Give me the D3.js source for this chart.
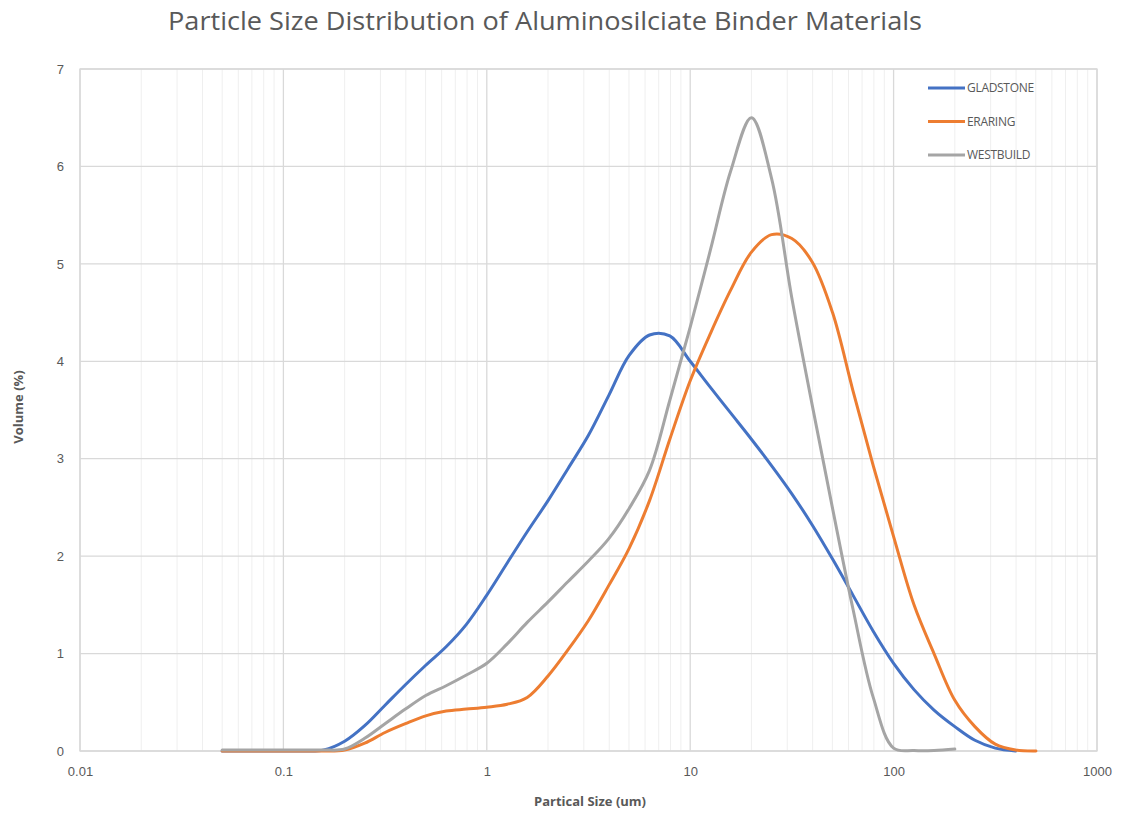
<!DOCTYPE html>
<html>
<head>
<meta charset="utf-8">
<script src="https://cdn.jsdelivr.net/npm/d3@7"></script>
<style>
  body { margin: 0; background: #fff; }
  svg { display: block; font-family: "Open Sans", "Liberation Sans", sans-serif; }
</style>
</head>
<body>
<svg id="chart"></svg>
<script>
// size classes (um), 10 per decade, as the analyser reports them
const sizes = [0.05, 0.063, 0.079, 0.1, 0.126, 0.158, 0.2, 0.251, 0.316, 0.398, 0.501, 0.631, 0.794,
  1, 1.26, 1.58, 2, 2.51, 3.16, 3.98, 5.01, 6.31, 7.94,
  10, 12.6, 15.8, 20, 25.1, 31.6, 39.8, 50.1, 63.1, 79.4,
  100, 126, 158, 200, 251, 316, 398, 501];

// volume (%); null = no point there
const gladstone = [0, 0, 0, 0, 0, 0.01, 0.1, 0.26, 0.47, 0.68, 0.88, 1.07, 1.3,
  1.6, 1.93, 2.25, 2.57, 2.9, 3.24, 3.65, 4.06, 4.27, 4.26,
  4.0, 3.73, 3.47, 3.2, 2.93, 2.64, 2.32, 1.97, 1.6, 1.23,
  0.9, 0.63, 0.42, 0.25, 0.11, 0.03, 0, null];

const eraring = [0, 0, 0, 0, 0, 0, 0.01, 0.08, 0.19, 0.28, 0.36, 0.41, 0.43,
  0.45, 0.48, 0.55, 0.77, 1.04, 1.34, 1.7, 2.08, 2.57, 3.2,
  3.8, 4.29, 4.73, 5.12, 5.3, 5.26, 5.02, 4.5, 3.7, 2.93,
  2.2, 1.5, 1.0, 0.52, 0.25, 0.07, 0.01, 0];

const westbuild = [0.01, 0.01, 0.01, 0.01, 0.01, 0.01, 0.02, 0.13, 0.28, 0.43, 0.57, 0.67, 0.78,
  0.9, 1.1, 1.32, 1.53, 1.74, 1.95, 2.18, 2.49, 2.88, 3.6,
  4.35, 5.15, 5.95, 6.5, 5.88, 4.65, 3.55, 2.49, 1.46, 0.55,
  0.03, 0.005, 0.005, 0.02, null, null, null, null];

const seriesNames = ["GLADSTONE", "ERARING", "WESTBUILD"];
const seriesColors = ["#4472C4", "#ED7D31", "#A5A5A5"];
const xTicks = [0.01, 0.1, 1, 10, 100, 1000];
const yTicks = [0, 1, 2, 3, 4, 5, 6, 7];

const W = 1125, H = 813;
const margin = { top: 69, right: 28, bottom: 62, left: 80 };
const width = W - margin.left - margin.right,
      height = H - margin.top - margin.bottom;

const svg = d3.select("#chart")
  .attr("width", W)
  .attr("height", H);

const g = svg.append("g")
  .attr("transform", `translate(${margin.left}, ${margin.top})`);

const x = d3.scaleLog().domain([0.01, 1000]).range([0, width]);
const y = d3.scaleLinear().domain([0, 7]).range([height, 0]);

// minor log gridlines
const minor = [];
for (let e = -2; e < 3; e++) {
  for (let m = 2; m <= 9; m++) minor.push(m * Math.pow(10, e));
}
g.selectAll(".minor")
  .data(minor)
  .enter()
  .append("line")
    .attr("x1", d => x(d)).attr("x2", d => x(d))
    .attr("y1", 0).attr("y2", height)
    .attr("stroke", "#efefef")
    .attr("stroke-width", 1);

// major gridlines
g.selectAll(".vmajor")
  .data(xTicks)
  .enter()
  .append("line")
    .attr("x1", d => x(d)).attr("x2", d => x(d))
    .attr("y1", 0).attr("y2", height)
    .attr("stroke", "#d9d9d9")
    .attr("stroke-width", 1.3);

g.selectAll(".hmajor")
  .data(yTicks)
  .enter()
  .append("line")
    .attr("x1", 0).attr("x2", width)
    .attr("y1", d => y(d)).attr("y2", d => y(d))
    .attr("stroke", "#d9d9d9")
    .attr("stroke-width", 1.3);

// axes (labels only)
const xAxis = d3.axisBottom(x).tickValues(xTicks).tickFormat(d => String(d)).tickSize(0).tickPadding(16);
g.append("g")
  .attr("transform", `translate(0, ${height})`)
  .call(xAxis)
  .call(a => a.select(".domain").remove())
  .selectAll("text")
    .attr("fill", "#595959")
    .style("font-size", "13px");

const yAxis = d3.axisLeft(y).tickValues(yTicks).tickFormat(d3.format("d")).tickSize(0).tickPadding(16);
g.append("g")
  .call(yAxis)
  .call(a => a.select(".domain").remove())
  .selectAll("text")
    .attr("fill", "#595959")
    .style("font-size", "13px");

// border
g.append("rect")
  .attr("width", width).attr("height", height)
  .attr("fill", "none")
  .attr("stroke", "#d9d9d9")
  .attr("stroke-width", 1.3);

// lines
const seriesData = [gladstone, eraring, westbuild].map(vals =>
  sizes.map((s, i) => [s, vals[i]]).filter(d => d[1] !== null)
);

const line = d3.line()
  .x(d => x(d[0]))
  .y(d => y(d[1]))
  .curve(d3.curveCatmullRom.alpha(0.5));

seriesData.forEach((s, i) => {
  g.append("path")
    .datum(s)
    .attr("fill", "none")
    .attr("stroke", seriesColors[i])
    .attr("stroke-width", 3)
    .attr("stroke-linejoin", "round")
    .attr("stroke-linecap", "round")
    .attr("d", line);
});

// legend
const legend = svg.append("g").attr("transform", "translate(928, 88)");
seriesNames.forEach((n, i) => {
  const row = legend.append("g").attr("transform", `translate(0, ${i * 33.5})`);
  row.append("line")
    .attr("x1", 0).attr("x2", 37)
    .attr("stroke", seriesColors[i])
    .attr("stroke-width", 3);
  row.append("text")
    .attr("x", 39)
    .attr("dy", "0.35em")
    .attr("fill", "#595959")
    .style("font-size", "12px")
    .style("letter-spacing", "-0.3px")
    .text(n);
});

// title
svg.append("text")
  .attr("x", 545)
  .attr("y", 30)
  .attr("text-anchor", "middle")
  .attr("fill", "#595959")
  .style("font-size", "25px")
  .attr("textLength", 754)
  .attr("lengthAdjust", "spacingAndGlyphs")
  .text("Particle Size Distribution of Aluminosilciate Binder Materials");

// axis titles
svg.append("text")
  .attr("x", 590)
  .attr("y", 806)
  .attr("text-anchor", "middle")
  .attr("fill", "#595959")
  .style("font-size", "13px")
  .style("font-weight", "bold")
  .text("Partical Size (um)");

svg.append("text")
  .attr("transform", "translate(23, 407) rotate(-90)")
  .attr("text-anchor", "middle")
  .attr("fill", "#595959")
  .style("font-size", "13px")
  .style("font-weight", "bold")
  .text("Volume (%)");
</script>
</body>
</html>
